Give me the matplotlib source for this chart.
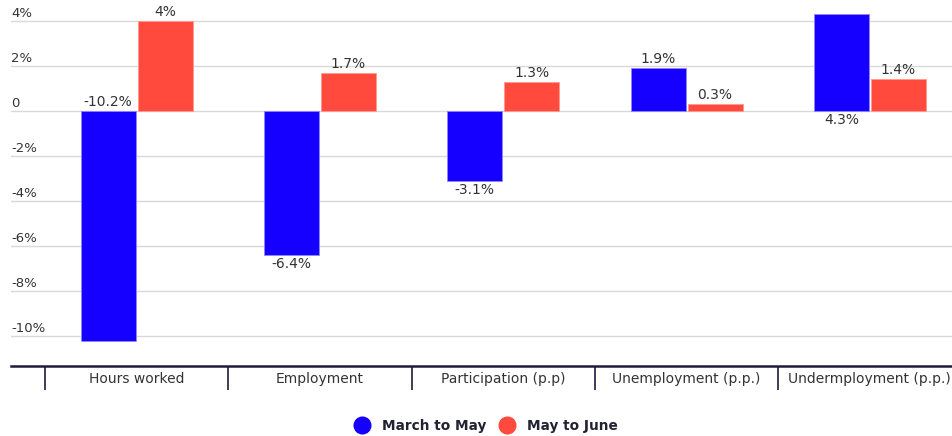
import matplotlib
matplotlib.use("Agg")
import matplotlib.pyplot as plt
from matplotlib.transforms import blended_transform_factory, offset_copy
import numpy as np

categories = ["Hours worked", "Employment", "Participation (p.p)", "Unemployment (p.p.)", "Undermployment (p.p.)"]
march_to_may = [-10.2, -6.4, -3.1, 1.9, 4.3]
may_to_june = [4.0, 1.7, 1.3, 0.3, 1.4]
march_labels = ["-10.2%", "-6.4%", "-3.1%", "1.9%", "4.3%"]
june_labels = ["4%", "1.7%", "1.3%", "0.3%", "1.4%"]
ytick_vals = [4, 2, 0, -2, -4, -6, -8, -10]
ytick_labels = ["4%", "2%", "0", "-2%", "-4%", "-6%", "-8%", "-10%"]
series_names = ["March to May", "May to June"]

BLUE = "#1500FF"
RED = "#FF4A3D"
AXIS = "#1c1c3a"
TXT = "#333333"

plt.rcParams['font.family'] = ['DejaVu Sans']

W, H = 953, 436
fig = plt.figure(figsize=(W / 100, H / 100), dpi=100)
ax_left, ax_right, ax_top, ax_bottom = 11, 953, 0, 366
ax = fig.add_axes([ax_left / W, 1 - ax_bottom / H, (ax_right - ax_left) / W, (ax_bottom - ax_top) / H])

px_per_cat = 183.3
xmin = -0.5 - (45 - ax_left) / px_per_cat
xmax = xmin + (ax_right - ax_left) / px_per_cat
ax.set_xlim(xmin, xmax)
ppu = 22.5
y0_px = 111
ax.set_ylim((y0_px - ax_bottom) / ppu, (y0_px - ax_top) / ppu)

x = np.arange(len(categories))
off = 28.5 / px_per_cat
w = 55 / px_per_cat
ax.bar(x - off, march_to_may, width=w, color=BLUE, edgecolor="#8f86ff", linewidth=0.6, zorder=3)
ax.bar(x + off, may_to_june, width=w, color=RED, edgecolor="#ff9a90", linewidth=0.6, zorder=3)

for yv in ytick_vals:
    ax.axhline(yv, color="#d9d9d9", linewidth=1, zorder=1)

trans = blended_transform_factory(ax.transAxes, ax.transData)
trans_up = offset_copy(trans, fig=fig, y=1, units='points')
for yv, lab in zip(ytick_vals, ytick_labels):
    ax.text(0.0, yv, lab, transform=trans_up, ha='left', va='bottom', fontsize=9.5, color=TXT)

# bar labels
FS = 10
tup = offset_copy(ax.transData, fig=fig, y=1.5, units='points')
tdn = offset_copy(ax.transData, fig=fig, y=-1.5, units='points')
for i, (v, lab) in enumerate(zip(march_to_may, march_labels)):
    if i == 0:
        ax.text(x[i] - off, 0, lab, transform=tup, ha='center', va='bottom', fontsize=FS, color=TXT)
    elif i == 4:
        ax.text(x[i] - off, 0, lab, transform=tdn, ha='center', va='top', fontsize=FS, color=TXT)
    elif v < 0:
        ax.text(x[i] - off, v, lab, transform=tdn, ha='center', va='top', fontsize=FS, color=TXT)
    else:
        ax.text(x[i] - off, v, lab, transform=tup, ha='center', va='bottom', fontsize=FS, color=TXT)
for i, (v, lab) in enumerate(zip(may_to_june, june_labels)):
    ax.text(x[i] + off, v, lab, transform=tup, ha='center', va='bottom', fontsize=FS, color=TXT)

for s in ["top", "right", "left"]:
    ax.spines[s].set_visible(False)
ax.spines["bottom"].set_color(AXIS)
ax.spines["bottom"].set_linewidth(1.8)
ax.set_yticks([])
ax.set_xticks(x)
ax.set_xticklabels(categories, fontsize=10, color=TXT)
ax.tick_params(axis='x', which='major', length=0, pad=4)
ax.set_xticks(np.arange(len(categories)) - 0.5, minor=True)
ax.tick_params(axis='x', which='minor', length=17, width=1.2, color=AXIS, direction='out')

# legend
from matplotlib.lines import Line2D
handles = [Line2D([0], [0], marker='o', linestyle='none', markersize=12, markerfacecolor=c, markeredgecolor=c)
           for c in (BLUE, RED)]
leg = fig.legend(handles, series_names, loc='center', bbox_to_anchor=(483 / W, 1 - 426 / H), ncol=2,
                 frameon=False, handletextpad=0.5, columnspacing=0.5,
                 prop={'weight': 'bold', 'size': 9.8})
for t in leg.get_texts():
    t.set_color("#222233")

fig.savefig("out.png", dpi=100)
